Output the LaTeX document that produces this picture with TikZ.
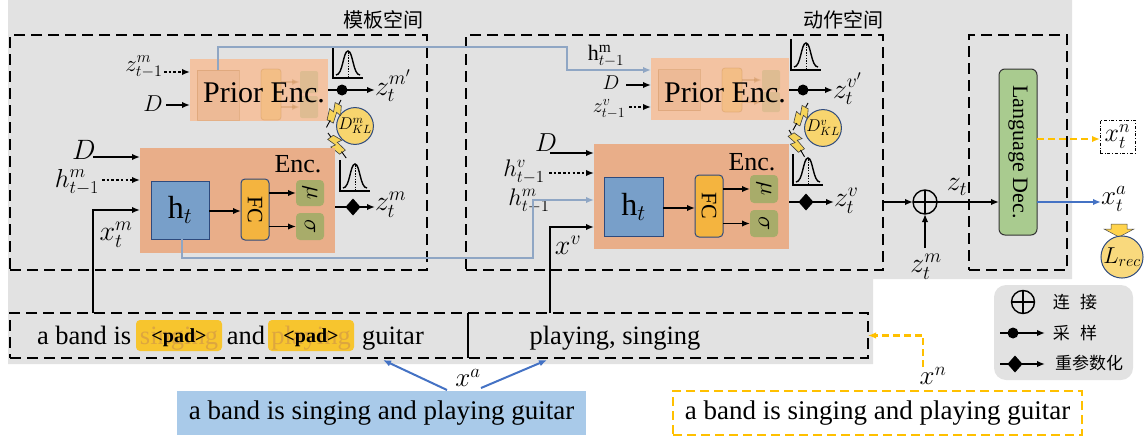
\documentclass[tikz,border=0pt]{standalone}
\usepackage{fix-cm}
\usepackage{fontspec}
\setmainfont{Liberation Serif}
\newfontfamily\cjk{Noto Sans CJK SC}
\usetikzlibrary{arrows.meta,calc,shapes.geometric}
\definecolor{bggray}{HTML}{E2E2E2}
\definecolor{priorc}{HTML}{F3C3A2}
\definecolor{encc}{HTML}{E9AE89}
\definecolor{hbluec}{HTML}{789FC9}
\definecolor{dkblue}{HTML}{2E4A7D}
\definecolor{fcc}{HTML}{F4B43F}
\definecolor{musc}{HTML}{A8AC6A}
\definecolor{hline}{HTML}{8FA6C4}
\definecolor{kldc}{HTML}{F8D56E}
\definecolor{decc}{HTML}{A9CB8F}
\definecolor{ycol}{HTML}{FFC000}
\definecolor{bcol}{HTML}{4472C4}
\definecolor{srcc}{HTML}{A9CAE9}
\definecolor{padc}{HTML}{F7C52E}
\definecolor{padtxt}{HTML}{DDA63F}
\definecolor{boltc}{HTML}{F6D45A}
\newcommand\fs[1]{\fontsize{#1}{#1}\selectfont}
\tikzset{
  arr/.style={-{Latex[length=8pt,width=6.5pt]}, line width=1.8pt},
  dotarr/.style={arr, dash pattern=on 2.5pt off 2.2pt},
  harr/.style={-{Latex[length=8pt,width=6.5pt]}, line width=2pt, draw=hline},
  barr/.style={-{Latex[length=8pt,width=6.5pt]}, line width=2pt, draw=bcol},
  yarr/.style={-{Latex[length=8pt,width=6.5pt]}, line width=2.2pt, draw=ycol, dash pattern=on 7pt off 4pt},
  dbox/.style={draw, line width=1.8pt, dash pattern=on 11pt off 6pt},
  priorbox/.style={fill=priorc},
  encbox/.style={fill=encc},
  hbox/.style={fill=hbluec, draw=dkblue, line width=1pt},
  fcbox/.style={fill=fcc, draw=dkblue, line width=1pt, rounded corners=4pt},
  musbox/.style={fill=musc, rounded corners=4pt},
  klc/.style={circle, fill=kldc, draw=dkblue, line width=1pt, minimum size=29pt},
  ghost/.style={opacity=.28},
  dmd/.style={diamond, fill=black, minimum width=15pt, minimum height=17pt},
  lab/.style={font=\fs{28}},
  distico/.pic={
    \draw[line width=1.6pt] (0,-31) -- (0,0) -- (30,0);
    \draw[line width=1.4pt] (3,-3) .. controls (10,-3) and (10,-27) .. (15,-27) .. controls (20,-27) and (20,-3) .. (27,-3);
    \draw[line width=0.6pt, dash pattern=on 1.5pt off 1.2pt] (15,-26) -- (15,0);
  },
  bolt/.pic={
    \draw[line width=0.9pt] (0,0) -- (7,0);
    \filldraw[fill=boltc, draw=black!75, line width=0.6pt] (5,-3) -- (14,-7) -- (13,-2) -- (24,-4) -- (24,3) -- (13,6) -- (14,1) -- (5,4) -- cycle;
    \draw[line width=0.9pt] (23,0) -- (31,0);
  },
  every node/.style={inner sep=0pt, outer sep=0pt}
}
\begin{document}
\begin{tikzpicture}[x=1pt,y=-1pt]
\path[use as bounding box] (0,0) rectangle (1145,439);
\fill[bggray] (8,0) -- (1072,0) -- (1072,279) -- (873,279) -- (873,364) -- (8,364) -- cycle;

% titles
\node[font=\cjk\fs{20}, anchor=east] (t1) at (423,20) {模板空间};
\node[font=\cjk\fs{20}, anchor=east] (t2) at (883,20) {动作空间};

% dashed module boxes
\node[dbox, minimum width=417, minimum height=235] (m1) at (218.5,152.5) {};
\node[dbox, minimum width=417, minimum height=235] (m2) at (674.5,152.5) {};
\node[dbox, minimum width=98, minimum height=235] (m3) at (1018,152.5) {};

% ================= left module =================
\node[priorbox, minimum width=138, minimum height=62] (pr1) at (259,90) {};
\node[ghost, fill=encc!80!brown, draw=brown, line width=.8pt, minimum width=42, minimum height=50] (gh1) at (218,95) {};
\node[ghost, fill=fcc, draw=brown, line width=.8pt, rounded corners=3pt, minimum width=20, minimum height=51] (gf1) at (271,94.5) {};
\node[ghost, fill=musc, rounded corners=2pt, minimum width=18, minimum height=22] (gm1) at (309,82) {};
\node[ghost, fill=musc, rounded corners=2pt, minimum width=18, minimum height=22] (gs1) at (309,107) {};
\draw[ghost, arr, draw=brown] (gf1.east |- gm1) -- (gm1.west);
\draw[ghost, arr, draw=brown] (gf1.east |- gs1) -- (gs1.west);
\node[font=\fs{30}] (prt1) at (264,93) {Prior Enc.};

\node[font=\fs{23}] (zm1) at (144,67) {$z^m_{t-1}$};
\coordinate (czm1) at (164,72);
\draw[dotarr] (czm1) -- (czm1 -| pr1.west);
\node[font=\fs{23}] (d1) at (153,104) {$D$};
\coordinate (cd1) at (166,105);
\draw[arr] (cd1) -- (cd1 -| pr1.west);

\pic at (333,78) {distico};
\coordinate (cs1) at (328,90);
\node[lab, anchor=west] (zmp) at (375,86) {$z_t^{m'}$};
\draw[arr] (cs1) -- (cs1 -| zmp.west);
\fill (342,90) circle (5.5);

\node[klc, font=\fs{17}] (kl1) at (355,126) {$D^m_{KL}$};
\pic[rotate=-118] at (341,100) {bolt};
\pic[rotate=-54] at (328,133) {bolt};

\node[encbox, minimum width=195, minimum height=105] (enc1) at (237.5,200.5) {};
\node[font=\fs{26}] (enct1) at (298,164) {Enc.};
\node[hbox, minimum width=58, minimum height=58, font=\fs{32}] (h1) at (180,210) {$\mathrm{h}_t$};
\node[fcbox, minimum width=28, minimum height=61] (fc1) at (255,209.5) {};
\node[rotate=-90, font=\fs{22}] (fct1) at (fc1) {FC};
\node[musbox, minimum width=28, minimum height=26] (mu1) at (310,193) {};
\node[rotate=-90, font=\fs{24}] (mut1) at (mu1) {$\mu$};
\node[musbox, minimum width=28, minimum height=27] (sg1) at (310,226.5) {};
\node[rotate=-90, font=\fs{24}] (sgt1) at (sg1) {$\sigma$};
\coordinate (ch1) at (209,211);
\draw[arr] (ch1) -- (ch1 -| fc1.west);
\draw[arr] (fc1.east |- mu1) -- (mu1.west);
\draw[arr] (fc1.east |- sg1) -- (sg1.west);

\pic at (340,191) {distico};
\coordinate (co1) at (335,207);
\node[lab, anchor=west] (zmo) at (375,205) {$z_t^{m}$};
\draw[arr] (co1) -- (co1 -| zmo.west);
\node[dmd] (dm1) at (353,207) {};

\node[font=\fs{28}] (d2) at (84,150) {$D$};
\coordinate (cd2) at (93,157);
\draw[arr] (cd2) -- (cd2 -| enc1.west);
\node[font=\fs{26}] (hm1) at (77,182) {$h^m_{t-1}$};
\coordinate (chm1) at (102,180);
\draw[dotarr] (chm1) -- (chm1 -| enc1.west);
\node[lab] (xm1) at (116,235) {$x^m_t$};

% ================= right module =================
\node[priorbox, minimum width=138, minimum height=62] (pr2) at (720,89) {};
\node[ghost, fill=encc!80!brown, draw=brown, line width=.8pt, minimum width=42, minimum height=41] (gh2) at (679,90) {};
\node[ghost, fill=fcc, draw=brown, line width=.8pt, rounded corners=3pt, minimum width=20, minimum height=44] (gf2) at (732,90) {};
\node[ghost, fill=musc, rounded corners=2pt, minimum width=18, minimum height=20] (gm2) at (771,80) {};
\node[ghost, fill=musc, rounded corners=2pt, minimum width=18, minimum height=20] (gs2) at (771,102) {};
\draw[ghost, arr, draw=brown] (gf2.east |- gm2) -- (gm2.west);
\draw[ghost, arr, draw=brown] (gf2.east |- gs2) -- (gs2.west);
\node[font=\fs{30}] (prt2) at (725,93) {Prior Enc.};

\node[font=\fs{22}] (hmu) at (606,56) {$\mathrm{h}^{\mathrm{m}}_{t-1}$};
\node[font=\fs{20}] (d3) at (611,83) {$D$};
\coordinate (cd3) at (626,85);
\draw[arr] (cd3) -- (cd3 -| pr2.west);
\node[font=\fs{20}] (zv1) at (609,109) {$z^v_{t-1}$};
\coordinate (czv1) at (629,107);
\draw[dotarr] (czv1) -- (czv1 -| pr2.west);

\pic at (791,70) {distico};
\coordinate (cs2) at (789,90);
\node[lab, anchor=west] (zvp) at (833,89) {$z_t^{v'}$};
\draw[arr] (cs2) -- (cs2 -| zvp.west);
\fill (803,90) circle (5.5);

\node[klc, font=\fs{17}] (kl2) at (823,128) {$D^v_{KL}$};
\pic[rotate=-119] at (808,103) {bolt};
\pic[rotate=-60] at (789,130) {bolt};

\node[encbox, minimum width=195, minimum height=105] (enc2) at (691.5,196.5) {};
\node[font=\fs{26}] (enct2) at (752,162) {Enc.};
\node[hbox, minimum width=59, minimum height=59, font=\fs{32}] (h2) at (633.5,206.5) {$\mathrm{h}_t$};
\node[fcbox, minimum width=28, minimum height=62] (fc2) at (709,206) {};
\node[rotate=-90, font=\fs{22}] (fct2) at (fc2) {FC};
\node[musbox, minimum width=28, minimum height=28] (mu2) at (764,189) {};
\node[rotate=-90, font=\fs{24}] (mut2) at (mu2) {$\mu$};
\node[musbox, minimum width=28, minimum height=27] (sg2) at (764,223.5) {};
\node[rotate=-90, font=\fs{24}] (sgt2) at (sg2) {$\sigma$};
\coordinate (ch2) at (663,208);
\draw[arr] (ch2) -- (ch2 -| fc2.west);
\draw[arr] (fc2.east |- mu2) -- (mu2.west);
\draw[arr] (fc2.east |- sg2) -- (sg2.west);

\pic at (793,185) {distico};
\coordinate (co2) at (789,202);
\node[lab, anchor=west] (zvo) at (834,201) {$z_t^{v}$};
\draw[arr] (co2) -- (co2 -| zvo.west);
\node[dmd] (dm2) at (806,202) {};

\node[font=\fs{26}] (d4) at (546,143) {$D$};
\coordinate (cd4) at (550,153);
\draw[arr] (cd4) -- (cd4 -| enc2.west);
\node[font=\fs{24}] (hv1) at (524,172) {$h^v_{t-1}$};
\coordinate (chv1) at (549,173);
\draw[dotarr] (chv1) -- (chv1 -| enc2.west);
\node[font=\fs{24}] (hm2) at (529,201) {$h^m_{t-1}$};
\node[lab] (xv1) at (568,245) {$x^v$};

% blue-grey h lines
\coordinate (hb1) at (182,239);
\coordinate (hb2) at (533,258);
\coordinate (hb3) at (533,200);
\draw[harr] (hb1) |- (hb2) -- (hb3) -- (hb3 -| enc2.west);
\coordinate (hu1) at (218,70);
\coordinate (hu2) at (567,47);
\coordinate (hu3) at (567,70);
\draw[harr] (hu1) |- (hu2) -- (hu3) -- (hu3 -| pr2.west);

% ================= decoder =================
\node[draw, circle, line width=1.4pt, minimum size=24pt] (op) at (925,202) {};
\draw[line width=1.2pt] (op.north) -- (op.south) (op.west) -- (op.east);
\coordinate (cz1) at (883,202);
\draw[arr] (cz1) -- (op.west);
\node[lab] (zmb) at (926,267) {$z_t^m$};
\coordinate (czm2) at (925,248);
\draw[arr] (czm2) -- (op.south);
\node[fill=decc, draw=black!80, line width=1pt, rounded corners=6pt, minimum width=38, minimum height=166] (dec) at (1018,152) {};
\node[rotate=-90, font=\fs{22}] (dect) at (dec) {Language Dec.};
\draw[arr] (op.east) -- (op.east -| dec.west);
\node[lab] (zt) at (957,187) {$z_t$};

\node[draw, dash dot, line width=.8pt, minimum width=35, minimum height=33, font=\fs{26}] (xnb) at (1117.5,136.5) {$x_t^n$};
\coordinate (cdn) at (1037,139);
\draw[yarr] (cdn) -- (cdn -| xnb.west);
\node[font=\fs{27}, anchor=west] (xa) at (1101,199) {$x_t^a$};
\coordinate (cda) at (1037,202);
\draw[barr] (cda) -- (cda -| xa.west);
\filldraw[fill=ycol!70, draw=black!70, line width=.5pt] (1111,224) -- (1127,224) -- (1127,229) -- (1134,229) -- (1119,237) -- (1104,229) -- (1111,229) -- cycle;
\node[circle, fill=kldc!90!white, draw=dkblue, line width=1pt, minimum size=38pt, font=\fs{23}] (lrec) at (1122,257) {$L_{rec}$};

% ================= bottom =================
\node[dbox, minimum width=858, minimum height=45] (sent) at (439,335.5) {};
\coordinate (sp1) at (468,313);
\coordinate (sp2) at (468,358);
\draw[line width=1.6pt] (sp1) -- (sp2);
\coordinate (xmb) at (93,313);
\coordinate (xmt) at (93,210);
\draw[arr] (xmb) -- (xmt) -- (xmt -| enc1.west);
\coordinate (xvb) at (550,313);
\coordinate (xvt) at (550,227);
\draw[arr] (xvb) -- (xvt) -- (xvt -| enc2.west);

\node[font=\fs{26.5}, anchor=base west] (s1) at (37,344) {a band is};
\node[fill=padc, rounded corners=4pt, minimum width=86, minimum height=31] (pad1) at (179,335.5) {};
\node[font=\fs{26.5}, text=padtxt, anchor=base] (ps1) at (179,344) {singing};
\node[font=\fs{20}\bfseries] (pt1) at (179,338) {<pad>};
\node[font=\fs{26.5}, anchor=base] (s2) at (246,344) {and};
\node[fill=padc, rounded corners=4pt, minimum width=86, minimum height=31] (pad2) at (311,335.5) {};
\node[font=\fs{26.5}, text=padtxt, anchor=base] (ps2) at (311,344) {playing};
\node[font=\fs{20}\bfseries] (pt2) at (311,338) {<pad>};
\node[font=\fs{26.5}, anchor=base west] (s3) at (362,344) {guitar};
\node[font=\fs{26.5}, anchor=base] (s4) at (615,344) {playing, singing};

\node[fill=srcc, minimum width=409, minimum height=44, font=\fs{27}] (src) at (381.5,413) {a band is singing and playing guitar};
\node[font=\fs{27}] (xa2) at (468,378) {$x^a$};
\coordinate (ca1) at (447,390);
\coordinate (ca2) at (383,360);
\coordinate (ca3) at (481,388);
\coordinate (ca4) at (547,360);
\draw[barr] (ca1) -- (ca2);
\draw[barr] (ca3) -- (ca4);

\node[draw=ycol, line width=2.4pt, dash pattern=on 9pt off 5pt, minimum width=409, minimum height=44, font=\fs{27}] (tgt) at (877.5,413) {a band is singing and playing guitar};
\node[font=\fs{27}] (xn2) at (933,376) {$x^n$};
\coordinate (cxn) at (923,367);
\draw[yarr] (cxn) |- (sent.east);

% ================= legend =================
\node[fill=bggray, rounded corners=12pt, minimum width=139, minimum height=95] (leg) at (1063.5,332.5) {};
\node[draw, circle, line width=1.4pt, minimum size=23pt] (lop) at (1023,302) {};
\draw[line width=1.2pt] (lop.north) -- (lop.south) (lop.west) -- (lop.east);
\node[font=\cjk\fs{17}] (l1) at (1075,302) {连\hspace{0.6em}接};
\coordinate (lsa) at (1000,333);
\coordinate (lsb) at (1045,333);
\draw[arr, line width=1.6pt] (lsa) -- (lsb);
\fill (1013,333) circle (5.5);
\node[font=\cjk\fs{17}] (l2) at (1075,333) {采\hspace{0.6em}样};
\coordinate (lra) at (1000,364);
\coordinate (lrb) at (1045,364);
\draw[arr, line width=1.6pt] (lra) -- (lrb);
\node[dmd] (ldm) at (1015,364) {};
\node[font=\cjk\fs{17}] (l3) at (1089,363) {重参数化};
\end{tikzpicture}
\end{document}
